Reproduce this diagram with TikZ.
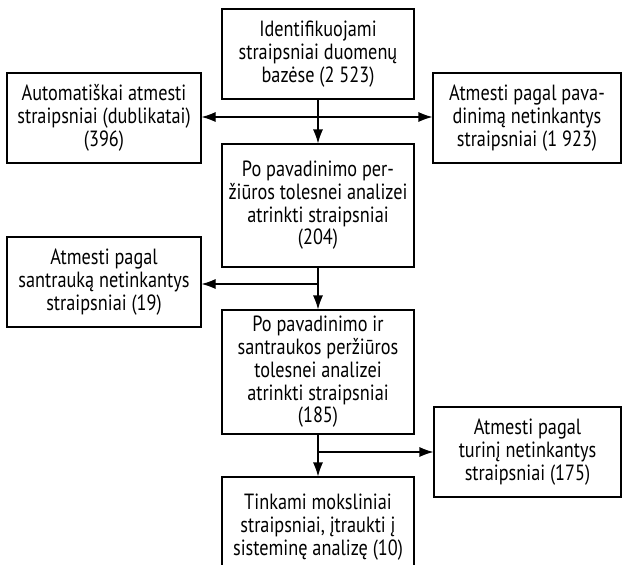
\documentclass[tikz,border=0pt]{standalone}
\usepackage{fontspec}
\setmainfont{PT Sans}[FakeStretch=0.83]
\usetikzlibrary{arrows.meta}

\begin{document}
\begin{tikzpicture}[->,>={Latex[length=14pt,width=10pt]},x=1pt,y=-1pt,
    line width=1.1pt,
    box/.style={rectangle,
          draw,
          align=center,
          inner sep=0pt,
          font=\fontsize{22pt}{22.7pt}\selectfont
          }]

    \clip (0,0) rectangle (622,565);

    \node[box, minimum width=192pt, minimum height=90pt] (ident) at (318,54)
        {Identifikuojami\\straipsniai duomenų\\bazėse (2 523)};

    \node[box, minimum width=194pt, minimum height=90pt] (dupl) at (104,118)
        {Automatiškai atmesti\\straipsniai (dublikatai)\\(396)};

    \node[box, minimum width=188pt, minimum height=90pt] (title) at (527,118)
        {Atmesti pagal pava-\\dinimą netinkantys\\straipsniai (1 923)};

    \node[box, minimum width=192pt, minimum height=123pt] (titleok) at (318,205.5)
        {Po pavadinimo per-\\žiūros tolesnei analizei\\atrinkti straipsniai\\(204)};

    \node[box, minimum width=194pt, minimum height=90pt] (abstr) at (104,282)
        {Atmesti pagal\\santrauką netinkantys\\straipsniai (19)};

    \node[box, minimum width=192pt, minimum height=124pt] (absok) at (318,372)
        {Po pavadinimo ir\\santraukos peržiūros\\tolesnei analizei\\atrinkti straipsniai\\(185)};

    \node[box, minimum width=187pt, minimum height=90pt] (content) at (527.5,452)
        {Atmesti pagal\\turinį netinkantys\\straipsniai (175)};

    \node[box, minimum width=192pt, minimum height=100pt] (final) at (318,527)
        {Tinkami moksliniai\\straipsniai, įtraukti į\\sisteminę analizę (10)};

    \coordinate (split1) at (318,117);
    \coordinate (split2) at (318,284);
    \coordinate (split3) at (318,452);

    \path
    %main flow
    (ident) edge [] (titleok)
    (titleok) edge [] (absok)
    (absok) edge [] (final)
    %rejected
    (split1) edge [] (split1 -| dupl.east)
    (split1) edge [] (split1 -| title.west)
    (split2) edge [] (split2 -| abstr.east)
    (split3) edge [] (split3 -| content.west);

\end{tikzpicture}
\end{document}
